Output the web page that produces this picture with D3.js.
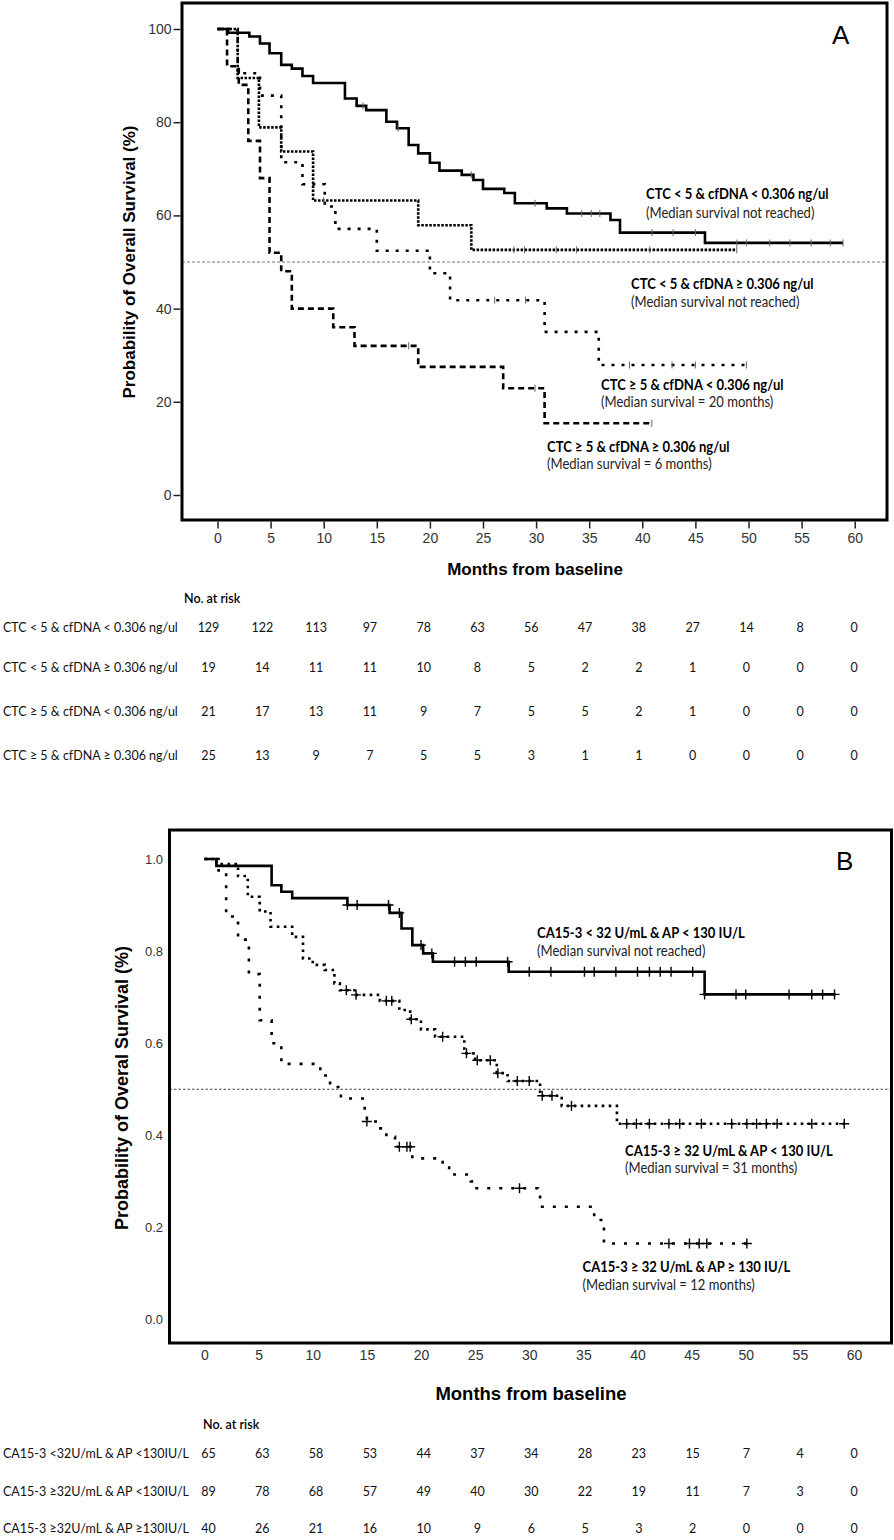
<!DOCTYPE html>
<html><head><meta charset="utf-8">
<script src="https://cdn.jsdelivr.net/npm/d3@7"></script>
<style>body{margin:0;background:#fff}svg{display:block}</style>
</head><body>
<svg id="chart" width="894" height="1540"></svg>
<script>
// ---------------- DATA ----------------
const monthTicks = [0,5,10,15,20,25,30,35,40,45,50,55,60];
const aYTicks = [0,20,40,60,80,100];
const bYTicks = [0,0.2,0.4,0.6,0.8,1.0];

// Panel A groups
const aLabels = ["CTC < 5 & cfDNA < 0.306 ng/ul","CTC < 5 & cfDNA \u2265 0.306 ng/ul","CTC \u2265 5 & cfDNA < 0.306 ng/ul","CTC \u2265 5 & cfDNA \u2265 0.306 ng/ul"];
const aMedians = ["(Median survival not reached)","(Median survival not reached)","(Median survival = 20 months)","(Median survival = 6 months)"];
// [month, survival %] steps
const aSteps1 = [[0,100],[1.0,99.2],[3.0,98.4],[4.0,96.9],[4.9,94.8],[6.0,92.3],[7.0,91.5],[8.0,89.9],[9.0,88.4],[12.0,85.1],[13.1,83.5],[14.0,82.6],[15.9,80.1],[16.9,78.7],[18.0,75.1],[18.9,73.3],[20.0,71.3],[20.9,69.6],[23.0,68.7],[24.1,67.6],[25.0,65.7],[27.0,64.8],[28.0,62.6],[31.0,61.5],[32.9,60.4],[37.0,59.0],[37.9,56.3],[45.9,54.1]];
const aSteps2 = [[0,100],[1.9,89.5],[3.9,78.9],[6.0,73.7],[9.0,63.2],[18.9,57.9],[23.9,52.6]];
const aSteps3 = [[0,100],[1.9,90.5],[4.0,85.7],[6.0,71.4],[8.0,66.7],[10.1,61.9],[11.1,57.1],[15.0,52.4],[20.0,47.6],[21.9,41.8],[30.8,35.0],[35.9,27.9]];
const aSteps4 = [[0,100],[0.9,92],[2.0,88],[2.9,76],[4.0,68],[4.9,52],[6.0,48],[7.0,40],[10.9,36],[12.9,32],[18.9,27.5],[26.9,22.9],[30.8,15.4]];
const aEnds = [58.9,48.9,49.8,40.9];
const aCensor1 = [13.7,17.0,23.9,29.9,34.3,35.2,36.0,40.9,42.9,45.0,48.9,49.8,52.0,53.9,55.9,57.7,58.9];
const aCensor2 = [10.0,27.9,28.9,31.9,33.8,40.7,48.9];
const aCensor3 = [26.1,29.0,38.8,42.8,45.0,49.8];
const aCensor4 = [18.0,29.9,40.9];
const aRisk1 = [129,122,113,97,78,63,56,47,38,27,14,8,0];
const aRisk2 = [19,14,11,11,10,8,5,2,2,1,0,0,0];
const aRisk3 = [21,17,13,11,9,7,5,5,2,1,0,0,0];
const aRisk4 = [25,13,9,7,5,5,3,1,1,0,0,0,0];

// Panel B groups
const bLabels = ["CA15-3 < 32 U/mL & AP < 130 IU/L","CA15-3 \u2265 32 U/mL & AP < 130 IU/L","CA15-3 \u2265 32 U/mL & AP \u2265 130 IU/L"];
const bMedians = ["(Median survival not reached)","(Median survival = 31 months)","(Median survival = 12 months)"];
const bRiskLabels = ["CA15-3 <32U/mL & AP <130IU/L","CA15-3 \u226532U/mL & AP <130IU/L","CA15-3 \u226532U/mL & AP \u2265130IU/L"];
const bSteps1 = [[0,1],[1.1,0.985],[6.2,0.943],[7.1,0.929],[8.1,0.915],[13.2,0.900],[17.1,0.883],[18.2,0.849],[19.2,0.813],[20.2,0.795],[21.1,0.777],[28.1,0.755],[46.2,0.706]];
const bSteps2 = [[0,1],[1.1,0.989],[3.1,0.963],[4.0,0.918],[5.1,0.886],[6.1,0.853],[8.1,0.831],[9.1,0.784],[10.0,0.770],[11.1,0.759],[12.0,0.730],[12.5,0.715],[14.0,0.705],[16.2,0.692],[18.0,0.672],[19.0,0.652],[20.0,0.630],[21.3,0.614],[24.0,0.578],[25.0,0.563],[27.0,0.535],[28.0,0.518],[31.0,0.486],[33.0,0.464],[38.1,0.425]];
const bSteps3 = [[0,1],[1.3,0.975],[2.0,0.875],[3.1,0.825],[4.1,0.75],[5.1,0.65],[6.2,0.60],[7.1,0.555],[10.7,0.53],[11.6,0.505],[12.6,0.48],[14.8,0.455],[15.0,0.43],[16.0,0.415],[16.8,0.397],[17.6,0.375],[19.2,0.35],[22.0,0.33],[22.6,0.315],[24.6,0.30],[25.0,0.285],[30.8,0.27],[31.0,0.245],[36.0,0.216],[36.9,0.165]];
const bEnds = [58.3,59.1,50.1];
const bCensor1 = [13.2,14.1,17.0,18.0,20.0,21.0,23.1,24.1,25.1,28.0,30.0,32.0,35.1,36.0,38.0,40.0,41.1,42.1,43.1,45.1,46.2,49.1,50.0,54.0,56.1,57.1,58.2];
const bCensor2 = [13.1,14.0,16.8,17.3,19.1,22.0,24.2,25.2,26.4,27.1,28.9,30.0,31.2,32.1,33.9,39.0,39.9,41.1,42.9,43.9,45.9,48.7,50.1,51.0,51.9,52.9,56.1,59.1];
const bCensor3 = [15.0,18.0,18.7,19.0,29.1,42.9,44.8,45.7,46.4,50.1];
const bRisk1 = [65,63,58,53,44,37,34,28,23,15,7,4,0];
const bRisk2 = [89,78,68,57,49,40,30,22,19,11,7,3,0];
const bRisk3 = [40,26,21,16,10,9,6,5,3,2,0,0,0];

// ---------------- DRAWING ----------------
const svg = d3.select("#chart");
const CAL = "Lato, 'Open Sans', sans-serif";
const ARIALN = "'Liberation Sans Narrow','Arial Narrow','Liberation Sans',Arial,sans-serif";
const ARIAL = "'Liberation Sans',Arial,sans-serif";

function valueAt(steps, t){ let v = steps[0][1]; for(const s of steps){ if(s[0] <= t) v = s[1]; } return v; }

function drawCurve(g, x, y, steps, end, dash, width){
  const pts = steps.map(d=>[d[0],d[1]]).concat([[end, steps[steps.length-1][1]]]);
  const line = d3.line().x(d=>x(d[0])).y(d=>y(d[1])).curve(d3.curveStepAfter);
  g.append("path").attr("d", line(pts)).attr("fill","none").attr("stroke","#000")
   .attr("stroke-width", width).attr("stroke-dasharray", dash).attr("stroke-linecap","butt");
}

function calText(g, x, y, str, size, weight, fill, sx){
  g.append("text").attr("transform",`translate(${x},${y}) scale(${sx},1)`)
   .attr("font-family",CAL).attr("font-size",size).attr("font-weight",weight)
   .attr("fill",fill).attr("dominant-baseline","central").text(str);
}

// ===== Panel A =====
const xA = d3.scaleLinear().domain([0,60]).range([217.5,854.7]);
const yA = d3.scaleLinear().domain([0,100]).range([495,29]);
const gA = svg.append("g");
// median line
gA.append("line").attr("x1",182).attr("x2",887).attr("y1",yA(50)).attr("y2",yA(50))
  .attr("stroke","#777").attr("stroke-width",1.2).attr("stroke-dasharray","3,2");
// curves
const aStepsAll = [aSteps1,aSteps2,aSteps3,aSteps4];
const aCensAll = [aCensor1,aCensor2,aCensor3,aCensor4];
const aDash = [null,"2.5,1.5","3,7","6,4"];
aStepsAll.forEach((s,i)=>drawCurve(gA,xA,yA,s,aEnds[i],aDash[i],2.6));
aStepsAll.forEach((s,i)=>{
  gA.selectAll(null).data(aCensAll[i]).join("line")
    .attr("x1",d=>xA(d)).attr("x2",d=>xA(d))
    .attr("y1",d=>yA(valueAt(s,d))-3.5).attr("y2",d=>yA(valueAt(s,d))+3.5)
    .attr("stroke","#666").attr("stroke-width",1);
});
// frame
gA.append("rect").attr("x",182).attr("y",3).attr("width",705).attr("height",517)
  .attr("fill","none").attr("stroke","#000").attr("stroke-width",3);
// axes
const axAx = gA.append("g").attr("transform","translate(0,521.5)")
  .call(d3.axisBottom(xA).tickValues(monthTicks).tickSize(7).tickPadding(5));
axAx.select(".domain").remove();
axAx.selectAll("line").attr("stroke","#222").attr("stroke-width",1.5);
axAx.selectAll("text").attr("font-family",ARIALN).attr("font-size",14).attr("fill","#333");
const ayAx = gA.append("g").attr("transform","translate(180.5,0)")
  .call(d3.axisLeft(yA).tickValues(aYTicks).tickSize(7).tickPadding(2));
ayAx.select(".domain").remove();
ayAx.selectAll("line").attr("stroke","#222").attr("stroke-width",1.5);
ayAx.selectAll("text").attr("font-family",ARIALN).attr("font-size",14).attr("fill","#333");
// titles
gA.append("text").attr("x",535).attr("y",569).attr("text-anchor","middle").attr("dominant-baseline","central")
  .attr("font-family",ARIAL).attr("font-weight","bold").attr("font-size",17).text("Months from baseline");
gA.append("text").attr("transform","translate(129,262) rotate(-90)").attr("text-anchor","middle").attr("dominant-baseline","central")
  .attr("font-family",ARIAL).attr("font-weight","bold").attr("font-size",17).text("Probability of Overall Survival (%)");
gA.append("text").attr("x",832).attr("y",43.5).attr("font-family",ARIAL).attr("font-size",26).text("A");
// annotations
const aAnn = [[646,193,212],[631,283,301.5],[601,384,401.5],[547,446,463.5]];
aAnn.forEach((p,i)=>{
  calText(gA,p[0],p[1],aLabels[i],15,"bold","#000",0.87);
  calText(gA,p[0],p[2],aMedians[i],15,"normal","#222",0.87);
});
// risk table A
const riskX = d3.scalePoint().domain(monthTicks).range([208.5,854]);
gA.append("text").attr("x",184).attr("y",598).attr("dominant-baseline","central")
  .attr("font-family",CAL).attr("font-size",12.5).attr("font-weight",600).text("No. at risk");
const aRiskAll = [aRisk1,aRisk2,aRisk3,aRisk4];
const aRowY = [627,667,711,755];
aRiskAll.forEach((row,i)=>{
  gA.append("text").attr("x",3).attr("y",aRowY[i]).attr("dominant-baseline","central")
    .attr("font-family",CAL).attr("font-size",12.5).attr("fill","#111").text(aLabels[i]);
  gA.selectAll(null).data(row).join("text")
    .attr("x",(d,j)=>riskX(monthTicks[j])).attr("y",aRowY[i]).attr("text-anchor","middle").attr("dominant-baseline","central")
    .attr("font-family",CAL).attr("font-size",12.5).attr("fill","#111").text(d=>d);
});

// ===== Panel B =====
const xB = d3.scaleLinear().domain([0,60]).range([204.5,854]);
const yB = d3.scaleLinear().domain([0,1]).range([1319.5,859]);
const gB = svg.append("g");
gB.append("line").attr("x1",169.5).attr("x2",891.5).attr("y1",yB(0.5)).attr("y2",yB(0.5))
  .attr("stroke","#444").attr("stroke-width",1.2).attr("stroke-dasharray","2.5,2");
const bStepsAll = [bSteps1,bSteps2,bSteps3];
const bCensAll = [bCensor1,bCensor2,bCensor3];
const bDash = [null,"2.6,4.4","3,9"];
bStepsAll.forEach((s,i)=>drawCurve(gB,xB,yB,s,bEnds[i],bDash[i],2.6));
bStepsAll.forEach((s,i)=>{
  const cg = gB.append("g");
  cg.selectAll(null).data(bCensAll[i]).join("path")
    .attr("d",d=>{const cx=xB(d), cy=yB(valueAt(s,d)); return `M${cx},${cy-5}V${cy+5}M${cx-5},${cy}H${cx+5}`;})
    .attr("stroke","#000").attr("stroke-width",1.4).attr("fill","none");
});
gB.append("rect").attr("x",169.5).attr("y",830).attr("width",722).attr("height",513)
  .attr("fill","none").attr("stroke","#000").attr("stroke-width",3);
const bxAx = gB.append("g").attr("transform","translate(0,1350)")
  .call(d3.axisBottom(xB).tickValues(monthTicks).tickSize(0).tickPadding(0));
bxAx.select(".domain").remove();
bxAx.selectAll("text").attr("font-family",ARIALN).attr("font-size",14).attr("fill","#333").attr("dy","0.71em");
const byAx = gB.append("g").attr("transform","translate(163,0)")
  .call(d3.axisLeft(yB).tickValues(bYTicks).tickFormat(d3.format(".1f")).tickSize(0).tickPadding(0));
byAx.select(".domain").remove();
byAx.selectAll("text").attr("font-family",ARIALN).attr("font-size",13).attr("fill","#333");
gB.append("text").attr("x",531).attr("y",1393).attr("text-anchor","middle").attr("dominant-baseline","central")
  .attr("font-family",ARIAL).attr("font-weight","bold").attr("font-size",18.5).text("Months from baseline");
gB.append("text").attr("transform","translate(122,1088) rotate(-90)").attr("text-anchor","middle").attr("dominant-baseline","central")
  .attr("font-family",ARIAL).attr("font-weight","bold").attr("font-size",18).text("Probability of Overal Survival (%)");
gB.append("text").attr("x",836).attr("y",870).attr("font-family",ARIAL).attr("font-size",26).text("B");
const bAnn = [[537,932.5,950.5],[625,1150,1167],[582.5,1266.5,1284]];
bAnn.forEach((p,i)=>{
  calText(gB,p[0],p[1],bLabels[i],15,"bold","#000",0.87);
  calText(gB,p[0],p[2],bMedians[i],15,"normal","#222",0.87);
});
gB.append("text").attr("x",203).attr("y",1424).attr("dominant-baseline","central")
  .attr("font-family",CAL).attr("font-size",12.5).attr("font-weight",600).text("No. at risk");
const bRiskAll = [bRisk1,bRisk2,bRisk3];
const bRowY = [1453,1491,1528];
bRiskAll.forEach((row,i)=>{
  gB.append("text").attr("x",3).attr("y",bRowY[i]).attr("dominant-baseline","central")
    .attr("font-family",CAL).attr("font-size",12.5).attr("fill","#111").text(bRiskLabels[i]);
  gB.selectAll(null).data(row).join("text")
    .attr("x",(d,j)=>riskX(monthTicks[j])).attr("y",bRowY[i]).attr("text-anchor","middle").attr("dominant-baseline","central")
    .attr("font-family",CAL).attr("font-size",12.5).attr("fill","#111").text(d=>d);
});
</script>
</body></html>
